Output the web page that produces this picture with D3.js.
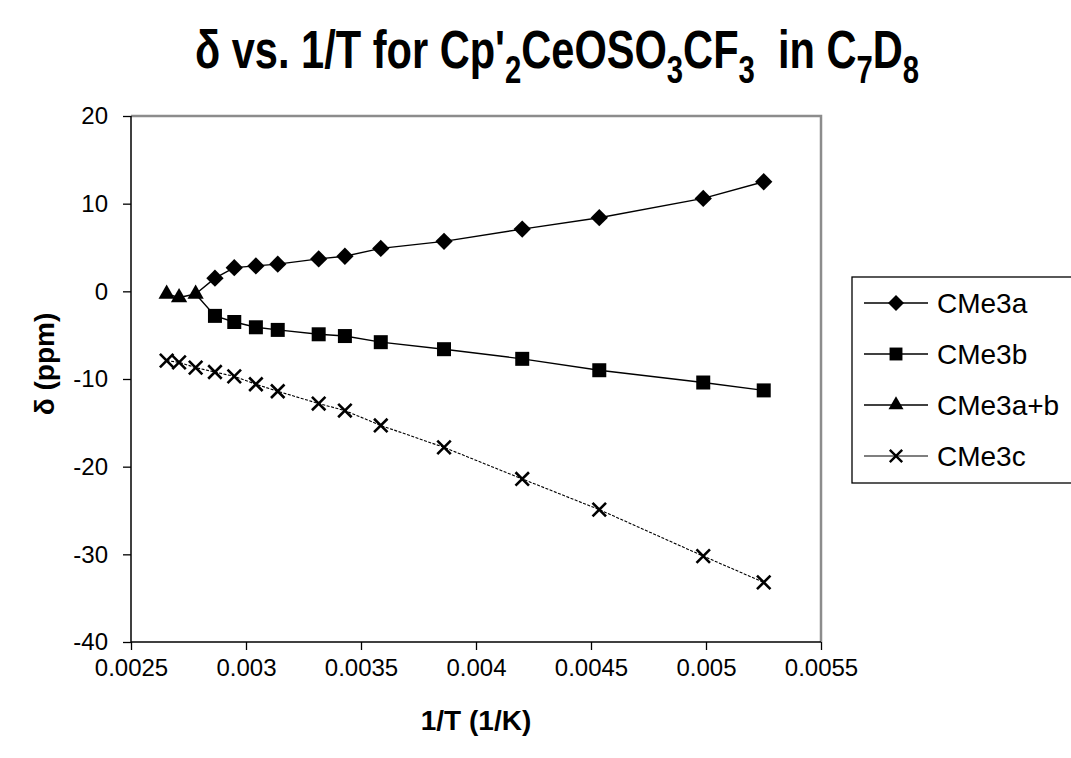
<!DOCTYPE html>
<html>
<head>
<meta charset="utf-8">
<script src="https://cdnjs.cloudflare.com/ajax/libs/d3/7.8.5/d3.min.js"></script>
<style>
  body { margin: 0; background: #fff; }
  svg { display: block; font-family: "Liberation Sans", Arial, sans-serif; }
</style>
</head>
<body>
<svg id="chart" width="1071" height="758"></svg>
<script>
// data
var xAB = [0.002655, 0.002709, 0.002781]
var yAB = [-0.3, -0.7, -0.3]
var xT = [0.002865, 0.002949, 0.003043, 0.003138, 0.003316, 0.003430,
          0.003586, 0.003861, 0.004201, 0.004536, 0.004988, 0.005251]
var yA = [1.5, 2.7, 2.9, 3.1, 3.7, 4.0, 4.9, 5.7, 7.1, 8.4, 10.6, 12.5]
var yB = [-2.8, -3.5, -4.1, -4.4, -4.9, -5.1, -5.8, -6.6, -7.7, -9.0, -10.4, -11.3]
var yC = [-7.9, -8.1, -8.7, -9.2, -9.7, -10.6, -11.4, -12.8, -13.6,
          -15.3, -17.8, -21.4, -24.9, -30.2, -33.2]
var seriesNames = ["CMe3a", "CMe3b", "CMe3a+b", "CMe3c"]
var xTicks = [0.0025, 0.003, 0.0035, 0.004, 0.0045, 0.005, 0.0055]
var yTicks = [-40, -30, -20, -10, 0, 10, 20]

// plot box (window.top is taken, so own names)
var plotL = 131, plotR = 821, plotT = 116, plotB = 642

var svg = d3.select("#chart")

var x = d3.scaleLinear().domain([0.0025, 0.0055]).range([plotL, plotR])
var y = d3.scaleLinear().domain([-40, 20]).range([plotB, plotT])

function pts(xs, ys) {
	return xs.map(function(d, i) { return { x: d, y: ys[i] } })
}

var lastAB = { x: xAB[xAB.length - 1], y: yAB[yAB.length - 1] }
var dataA = pts(xT, yA)
var dataB = pts(xT, yB)
var dataAB = pts(xAB, yAB)
var dataC = pts(xAB.concat(xT), yC)

// squared diamond like the spreadsheet one
var diamond = {
	draw: function(ctx, size) {
		var r = Math.sqrt(size / 2)
		ctx.moveTo(0, -r); ctx.lineTo(r, 0); ctx.lineTo(0, r); ctx.lineTo(-r, 0); ctx.closePath()
	}
}

var series = [
	{ name: seriesNames[0], line: [lastAB].concat(dataA), pts: dataA, sym: diamond, size: 150, dash: null },
	{ name: seriesNames[1], line: [lastAB].concat(dataB), pts: dataB, sym: d3.symbolSquare, size: 196, dash: null },
	{ name: seriesNames[2], line: dataAB, pts: dataAB, sym: d3.symbolTriangle, size: 115, dash: null },
	{ name: seriesNames[3], line: dataC, pts: dataC, sym: d3.symbolTimes, size: 120, dash: "3,1.5" }
]

// plot frame: gray on top and right
svg.append("path")
	.attr("d", "M" + plotL + "," + plotT + "H" + plotR + "V" + plotB)
	.attr("fill", "none")
	.attr("stroke", "#8c8c8c")
	.attr("stroke-width", 2.5)

// plain hyphen minus, as in the picture
var plain = function(d) { return String(d) }

var xAxis = svg.append("g")
	.attr("transform", "translate(0," + plotB + ")")
	.call(d3.axisBottom(x).tickValues(xTicks).tickSize(8).tickPadding(9).tickFormat(plain))
var yAxis = svg.append("g")
	.attr("transform", "translate(" + plotL + ",0)")
	.call(d3.axisLeft(y).tickValues(yTicks).tickSize(8).tickPadding(15).tickFormat(plain))

svg.selectAll(".domain").attr("stroke", "#000").attr("stroke-width", 1.5)
svg.selectAll(".tick line").attr("stroke", "#000").attr("stroke-width", 1.3)
svg.selectAll(".tick text")
	.attr("fill", "#000")
	.style("font-family", "'Liberation Sans', Arial, sans-serif")
	.style("font-size", "24px")
xAxis.selectAll(".domain").attr("d", "M" + plotL + ",0H" + plotR)
yAxis.selectAll(".domain").attr("d", "M0," + plotB + "V" + plotT)

var line = d3.line().x(function(d) { return x(d.x) }).y(function(d) { return y(d.y) })

series.forEach(function(s) {
	svg.append("path")
		.attr("d", line(s.line))
		.attr("fill", "none")
		.attr("stroke", "#000")
		.attr("stroke-width", s.dash ? 1.1 : 1.4)
		.attr("stroke-dasharray", s.dash)
})

series.forEach(function(s) {
	var isX = s.sym === d3.symbolTimes
	svg.append("g").selectAll("path")
		.data(s.pts)
		.enter()
		.append("path")
		.attr("transform", function(d) { return "translate(" + x(d.x) + "," + y(d.y) + ")" })
		.attr("d", d3.symbol(s.sym, s.size))
		.attr("fill", isX ? "none" : "#000")
		.attr("stroke", isX ? "#000" : "none")
		.attr("stroke-width", isX ? 2.6 : 0)
})

// legend
var legend = svg.append("g").attr("transform", "translate(852,277)")
legend.append("rect")
	.attr("x", 0).attr("y", 0)
	.attr("width", 240).attr("height", 206)
	.attr("fill", "#fff").attr("stroke", "#000").attr("stroke-width", 1.3)

series.forEach(function(s, i) {
	var g = legend.append("g").attr("transform", "translate(0," + (26 + i * 51) + ")")
	g.append("line")
		.attr("x1", 12).attr("x2", 76)
		.attr("stroke", "#000").attr("stroke-width", s.dash ? 1.1 : 1.4)
	var isX = s.sym === d3.symbolTimes
	g.append("path")
		.attr("transform", "translate(44,0)")
		.attr("d", d3.symbol(s.sym, s.size * 0.85))
		.attr("fill", isX ? "none" : "#000")
		.attr("stroke", isX ? "#000" : "none")
		.attr("stroke-width", isX ? 2.4 : 0)
	g.append("text")
		.attr("x", 85).attr("y", 10)
		.style("font-size", "28px")
		.text(s.name)
})

// title, squeezed sideways like the narrow bold face in the picture
var title = svg.append("g")
	.attr("transform", "translate(557,68) scale(0.77,1)")
	.append("text")
	.attr("text-anchor", "middle")
	.style("font-weight", "bold")
	.style("font-size", "54px")
	.style("white-space", "pre")
var parts = [["δ vs. 1/T for Cp'", 0], ["2", 1], ["CeOSO", 0], ["3", 1], ["CF", 0], ["3", 1], ["  in C", 0], ["7", 1], ["D", 0], ["8", 1]]
var shifted = false
parts.forEach(function(p) {
	var t = title.append("tspan").text(p[0])
	if (p[1]) t.style("font-size", "38px")
	if (p[1] && !shifted) { t.attr("dy", 15); shifted = true }
	else if (!p[1] && shifted) { t.attr("dy", -15); shifted = false }
})

// axis titles
svg.append("text")
	.attr("x", (plotL + plotR) / 2).attr("y", 730)
	.attr("text-anchor", "middle")
	.style("font-weight", "bold")
	.style("font-size", "28px")
	.text("1/T (1/K)")

svg.append("text")
	.attr("transform", "translate(54,364) rotate(-90)")
	.attr("text-anchor", "middle")
	.style("font-weight", "bold")
	.style("font-size", "28px")
	.text("δ (ppm)")
</script>
</body>
</html>
